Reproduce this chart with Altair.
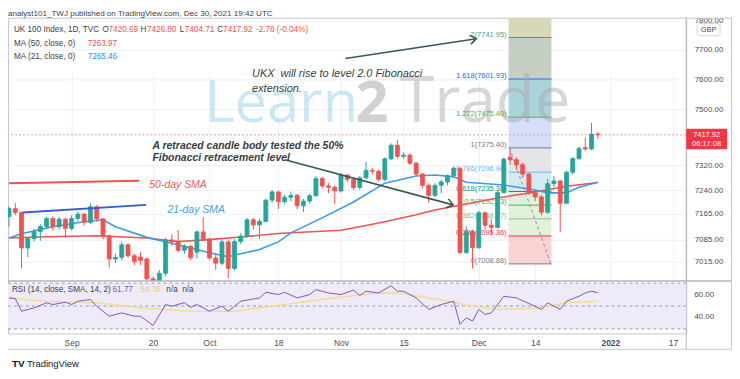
import altair as alt
import pandas as pd

# ---------------- data ----------------
# daily candles, 17 Aug 2021 (index 0) .. 30 Dec 2021 (index 94)
OPEN = [7156, 7181, 7169, 7058, 7087, 7109, 7125, 7150, 7124, 7148,
        7119, 7150, 7164, 7138, 7187, 7149, 7096, 7024, 7029, 7068,
        7034, 7030, 7024, 6963, 6903, 6980, 7083, 7078, 7051, 7063,
        7045, 7108, 7086, 7027, 7011, 7077, 6995, 7078, 7095, 7146,
        7130, 7141, 7208, 7234, 7203, 7217, 7223, 7190, 7205, 7222,
        7277, 7253, 7249, 7237, 7288, 7274, 7248, 7279, 7303, 7300,
        7274, 7340, 7384, 7348, 7352, 7326, 7291, 7255, 7223, 7255,
        7266, 7286, 7310, 7044, 7109, 7059, 7168, 7129, 7122, 7232,
        7345, 7337, 7321, 7291, 7231, 7218, 7170, 7260, 7269, 7198,
        7297, 7341, 7376, 7372, 7420.69]
HIGH = [7188, 7200, 7172, 7092, 7118, 7132, 7156, 7157, 7155, 7153,
        7160, 7172, 7168, 7198, 7192, 7152, 7100, 7040, 7078, 7072,
        7040, 7045, 7030, 6970, 6990, 7090, 7100, 7114, 7070, 7068,
        7112, 7155, 7090, 7040, 7085, 7082, 7085, 7105, 7152, 7152,
        7150, 7212, 7240, 7238, 7225, 7235, 7228, 7212, 7228, 7285,
        7282, 7262, 7255, 7295, 7292, 7280, 7285, 7330, 7310, 7306,
        7345, 7390, 7402, 7362, 7358, 7330, 7295, 7262, 7262, 7272,
        7290, 7315, 7312, 7125, 7115, 7175, 7172, 7150, 7240, 7345,
        7368, 7345, 7328, 7295, 7240, 7225, 7275, 7285, 7272, 7302,
        7345, 7380, 7408, 7457, 7426.80]
LOW = [7124, 7160, 6995, 7030, 7078, 7080, 7118, 7112, 7115, 7090,
       7112, 7140, 7128, 7132, 7140, 7085, 6998, 7012, 7020, 7028,
       7005, 7005, 6950, 6880, 6895, 6970, 7065, 7045, 7040, 7020,
       7025, 7080, 7020, 6990, 7005, 6965, 6990, 7070, 7090, 7115,
       7085, 7138, 7200, 7180, 7195, 7205, 7180, 7170, 7198, 7218,
       7245, 7230, 7195, 7232, 7265, 7240, 7242, 7275, 7290, 7268,
       7268, 7335, 7340, 7340, 7320, 7285, 7245, 7200, 7218, 7230,
       7255, 7280, 7040, 7040, 6995, 7055, 7115, 7100, 7118, 7228,
       7320, 7305, 7280, 7225, 7205, 7160, 7165, 7250, 7108, 7195,
       7290, 7335, 7365, 7368, 7404.71]
CLOSE = [7181, 7169, 7058, 7087, 7109, 7125, 7150, 7124, 7148, 7119,
         7150, 7164, 7138, 7187, 7149, 7096, 7024, 7029, 7068, 7034,
         7016, 7020, 6963, 6903, 6980, 7083, 7078, 7051, 7063, 7028,
         7108, 7086, 7027, 7011, 7077, 6995, 7078, 7095, 7146, 7130,
         7141, 7208, 7234, 7203, 7217, 7223, 7190, 7205, 7222, 7277,
         7253, 7249, 7237, 7288, 7274, 7248, 7279, 7303, 7300, 7274,
         7340, 7384, 7348, 7352, 7326, 7291, 7255, 7223, 7255, 7266,
         7286, 7310, 7044, 7109, 7059, 7168, 7129, 7122, 7232, 7339,
         7337, 7321, 7291, 7231, 7218, 7170, 7260, 7269, 7198, 7297,
         7341, 7373, 7372, 7420, 7417.92]

MA50_IDX = [0, 6, 14, 22, 27, 32, 37, 43, 46, 53, 57, 60, 65, 68, 73, 78, 84, 89, 94]
MA50_VAL = [7089, 7093, 7096, 7089, 7078, 7084, 7092, 7103, 7106, 7113, 7128, 7140,
            7162, 7177, 7196, 7215, 7234, 7252, 7264]
MA21_IDX = [0, 2, 7, 12, 15, 17, 22, 27, 32, 35, 37, 40, 43, 45, 50, 55, 60, 65, 68,
            71, 73, 79, 84, 86, 89, 91, 94]
MA21_VAL = [7089, 7102, 7124, 7140, 7146, 7124, 7091, 7068, 7043, 7031, 7040, 7053,
            7077, 7105, 7152, 7202, 7262, 7285, 7288, 7282, 7265, 7256, 7240, 7231,
            7231, 7249, 7265]

RSI_IDX = [0, 1, 2, 4, 6, 7, 9, 10, 11, 13, 14, 16, 18, 20, 21, 23, 25, 26, 28, 29,
           30, 32, 34, 35, 36, 37, 40, 41, 43, 44, 46, 48, 49, 51, 53, 55, 56, 57, 59,
           61, 62, 63, 65, 67, 69, 71, 72, 73, 74, 75, 76, 77, 79, 81, 84, 85, 86, 88,
           89, 91, 92, 93, 94]
RSI_VAL = [57.1, 56.5, 45.5, 48.4, 52.8, 51.3, 53.3, 51.3, 54.2, 55.7, 49.8, 41.1, 44.0,
           41.1, 41.1, 33.0, 51.3, 49.8, 53.0, 48.9, 51.3, 45.5, 49.8, 45.5, 49.8, 54.2,
           57.1, 62.0, 60.0, 62.0, 57.1, 60.0, 64.3, 61.4, 60.0, 63.8, 59.2, 62.9, 61.4,
           67.7, 62.9, 62.9, 57.1, 47.0, 51.3, 54.2, 34.0, 39.8, 36.9, 47.0, 42.7, 44.0,
           58.5, 57.1, 49.8, 47.0, 52.8, 47.0, 54.2, 58.5, 61.4, 62.9, 61.77]
RSIMA_IDX = [0, 6, 14, 21, 29, 36, 44, 52, 59, 63, 70, 74, 78, 85, 89, 94]
RSIMA_VAL = [57.0, 54.0, 52.8, 48.4, 45.5, 45.5, 51.3, 57.1, 61.4, 60.8, 54.2, 49.8,
             47.0, 48.4, 52.8, 54.2]

X_TICK_IDX = [10, 23, 32, 43, 53, 63, 75, 84, 96, 106]
X_TICK_LABELS = ["Sep", "20", "Oct", "18", "Nov", "15", "Dec", "14", "2022", "17"]
PRICE_TICKS = [7015, 7085, 7165, 7240, 7320, 7500, 7600, 7700, 7800]
RSI_TICKS = [40, 60]
RSI_BANDS = [70, 50, 30]

FIB_RATIOS = ["0", "0.236", "0.382", "0.5", "0.618", "0.786", "1", "1.272", "1.618", "2"]
FIB_PRICES = [7008.86, 7095.36, 7148.87, 7192.13, 7235.38, 7296.96, 7375.40, 7475.40,
              7601.93, 7741.95]
FIB_TOP = 7968.50
FIB_LINE_COLORS = ["#787b86", "#f23645", "#81c784", "#4caf50", "#089981", "#64b5f6",
                   "#787b86", "#4caf50", "#2962ff", "#3f9f8a"]
FIB_ZONE_COLORS = ["#f9d2d2", "#e2f1dc", "#e2f1dc", "#e1f0dc", "#d5ebf2", "#e4e5e8",
                   "#d6def8", "#a9d4da", "#c5d0c2", "#d8d7b8"]

# annotation anchors (bar index, price)
SMA50_NOTE = ([0, 20.8], [7262, 7270])
SMA21_NOTE = ([2.2, 21.9], [7169, 7193])
ARROW1 = ([44.2, 70.9], [7336, 7193])
ARROW2 = ([53.7, 74.6], [7671, 7738])
FIB_SPAN = (79.75, 86.6)
FIB_TREND = ([79.9, 86.5], [7375.4, 7008.86])
LAST_PRICE = 7417.92

# ---------------- layout ----------------
W, H = 681, 317
MAIN_BOTTOM = 264
UI_FONT = "Liberation Sans"
UP, DOWN = "#26a69a", "#ef5350"
GRID = "#edf0f5"
AXIS_TXT = "#4a4e5a"
NBSP = "\u00a0"

x_scale = alt.Scale(domain=[-0.16, 108.11], nice=False, zero=False, padding=0)
price_scale = alt.Scale(type="log", domain=[6957.5, 7809.6], range=[MAIN_BOTTOM, 0],
                        clamp=True, nice=False)
rsi_scale = alt.Scale(domain=[26.1, 71.3], range=[H, MAIN_BOTTOM + 1], nice=False, zero=False)

label_expr = "''"
for v, l in zip(reversed(X_TICK_IDX), reversed(X_TICK_LABELS)):
    label_expr = f"datum.value == {v} ? '{l}' : {label_expr}"

x_axis = alt.Axis(values=X_TICK_IDX, labelExpr=label_expr, title=None, grid=True,
                  gridColor=GRID, ticks=False, domain=False, labelFont=UI_FONT,
                  labelFontSize=8.5, labelColor=AXIS_TXT, labelPadding=5,
                  labelFontWeight={"condition": {"test": "datum.value == 96", "value": "bold"},
                                   "value": "normal"})
y_axis = alt.Axis(orient="right", values=PRICE_TICKS, format=".2f", title=None, grid=True,
                  gridColor=GRID, ticks=False, domain=False, labelFont=UI_FONT,
                  labelFontSize=8, labelColor=AXIS_TXT, labelPadding=8,
                  labelOverlap=False, labelBound=False)


def xq(field):
    return alt.X(field, type="quantitative", scale=x_scale, axis=x_axis)


def yp(field):
    return alt.Y(field, type="quantitative", scale=price_scale, axis=y_axis)


def yr(field):
    return alt.Y(field, type="quantitative", scale=rsi_scale, axis=None)


ONE = pd.DataFrame({"k": [0]})


def ptext(txt, x, y, color, size=8.2, weight="normal", align="left", style="normal",
          baseline="middle", font=UI_FONT):
    return alt.Chart(ONE).mark_text(text=txt, align=align, baseline=baseline, fontSize=size,
                                    fontWeight=weight, fontStyle=style, font=font,
                                    color=color).encode(x=alt.value(x), y=alt.value(y))


def prule(x, x2, y, y2=None, color="#c5c8cf", width=1):
    enc = dict(x=alt.value(x), x2=alt.value(x2), y=alt.value(y))
    if y2 is not None:
        enc["y2"] = alt.value(y2)
    return alt.Chart(ONE).mark_rule(color=color, strokeWidth=width).encode(**enc)


def seg(xs, ys, color, width=1.5, dash=None):
    df = pd.DataFrame({"x": xs, "y": ys, "o": list(range(len(xs)))})
    kw = dict(color=color, strokeWidth=width)
    if dash:
        kw["strokeDash"] = dash
    return alt.Chart(df).mark_line(**kw).encode(x=xq("x"), y=yp("y"), order="o:Q")


def head(xs, ys, angle, color):
    df = pd.DataFrame({"x": [xs[-1]], "y": [ys[-1]]})
    return alt.Chart(df).mark_point(shape="M -1 -0.75 L 0 0 L -1 0.75", filled=False,
                                    size=150, strokeWidth=1.6, color=color, angle=angle,
                                    opacity=1).encode(x=xq("x"), y=yp("y"))


def atext(txt, xi, price, color, size=10.5, weight="normal", style="italic",
          align="left", baseline="middle", font=UI_FONT, opacity=1):
    df = pd.DataFrame({"x": [xi], "y": [price]})
    return alt.Chart(df).mark_text(text=txt, align=align, baseline=baseline, fontSize=size,
                                   fontWeight=weight, fontStyle=style, font=font,
                                   color=color, opacity=opacity).encode(x=xq("x"), y=yp("y"))


candles = pd.DataFrame({"i": list(range(len(CLOSE))), "o": OPEN, "h": HIGH, "l": LOW,
                        "c": CLOSE})
cond_col = alt.condition("datum.c >= datum.o", alt.value(UP), alt.value(DOWN))

layers = []

# fibonacci extension zones, levels and labels
zones = pd.DataFrame({"lo": FIB_PRICES, "hi": FIB_PRICES[1:] + [FIB_TOP],
                      "col": FIB_ZONE_COLORS, "x0": [FIB_SPAN[0]] * 10,
                      "x1": [FIB_SPAN[1]] * 10})
layers.append(alt.Chart(zones).mark_rect().encode(
    x=xq("x0"), x2="x1", y=yp("lo"), y2="hi", color=alt.Color("col:N", scale=None)))
lv = pd.DataFrame({"p": FIB_PRICES, "col": FIB_LINE_COLORS,
                   "lab": [f"{r}({p:.2f})" for r, p in zip(FIB_RATIOS, FIB_PRICES)],
                   "x0": [FIB_SPAN[0]] * 10, "x1": [FIB_SPAN[1]] * 10})
layers.append(alt.Chart(lv).mark_rule(strokeWidth=1).encode(
    x=xq("x0"), x2="x1", y=yp("p"), color=alt.Color("col:N", scale=None)))
layers.append(seg(FIB_TREND[0], FIB_TREND[1], "#8a8d96", width=1, dash=[3, 3]))

# watermark (faint, behind everything else that follows)
layers.append(atext("Learn", 31.2, 7459, "#8ccbe6", size=58, style="normal",
                    baseline="alphabetic", font="Open Sans", opacity=0.45))
layers.append(atext("2", 55.3, 7459, "#9a9a9a", size=58, style="normal",
                    baseline="alphabetic", font="Open Sans", weight="bold", opacity=0.45))
layers.append(atext("Trade", 62.3, 7459, "#a8a8a8", size=64, style="normal",
                    baseline="alphabetic", font="Open Sans", opacity=0.45))

layers.append(alt.Chart(lv).mark_text(align="right", baseline="bottom", fontSize=7.5,
                                      font=UI_FONT, dx=-2, dy=1).encode(
    x=xq("x0"), y=yp("p"), text="lab:N", color=alt.Color("col:N", scale=None)))

# last price line
layers.append(alt.Chart(pd.DataFrame({"p": [LAST_PRICE]})).mark_rule(
    color="#f29a9a", strokeWidth=1, strokeDash=[2, 2]).encode(y=yp("p")))

# moving averages
layers.append(seg(MA50_IDX, MA50_VAL, "#ef5350", width=1.6))
layers.append(seg(MA21_IDX, MA21_VAL, "#3d9be9", width=1.6))

# candles
layers.append(alt.Chart(candles).mark_rule(strokeWidth=1).encode(
    x=xq("i"), y=yp("l"), y2="h", color=cond_col))
layers.append(alt.Chart(candles).mark_bar(size=4, strokeWidth=0.8).encode(
    x=xq("i"), y=yp("o"), y2="c", color=cond_col, stroke=cond_col))

# drawings
layers.append(seg(SMA50_NOTE[0], SMA50_NOTE[1], "#ef5350", width=2))
layers.append(seg(SMA21_NOTE[0], SMA21_NOTE[1], "#3b5bd6", width=2))
layers.append(seg(ARROW1[0], ARROW1[1], "#3a5a4f", width=1.6))
layers.append(head(ARROW1[0], ARROW1[1], 15, "#3a5a4f"))
layers.append(seg(ARROW2[0], ARROW2[1], "#3a5a4f", width=1.6))
layers.append(head(ARROW2[0], ARROW2[1], 351, "#3a5a4f"))

layers.append(atext("50-day SMA", 22.4, 7256, "#e8605c", size=10.5))
layers.append(atext("21-day SMA", 25.3, 7177, "#4a9fe3", size=10.5))
layers.append(atext("A retraced candle body tested the 50%", 22.9, 7381, "#38403d",
                    size=10.5, weight="bold"))
layers.append(atext("Fibonacci retracement level", 22.9, 7343, "#38403d",
                    size=10.5, weight="bold"))
layers.append(atext("UKX" + NBSP + NBSP + "will rise to level 2.0 Fibonacci", 38.8, 7619,
                    "#38403d", size=11))
layers.append(atext("extension.", 38.8, 7570, "#38403d", size=11))

# pane legend
RED_TXT, GRAY_TXT = "#ef5350", "#3b3f4a"
L1, L2, L3 = 12.5, 26, 39
layers += [
    ptext("UK 100 Index, 1D, TVC", 6, L1, GRAY_TXT),
    ptext("O", 95, L1, GRAY_TXT), ptext("7420.69", 101, L1, RED_TXT),
    ptext("H", 133, L1, GRAY_TXT), ptext("7426.80", 139.5, L1, RED_TXT),
    ptext("L", 172.5, L1, GRAY_TXT), ptext("7404.71", 177.5, L1, RED_TXT),
    ptext("C", 210, L1, GRAY_TXT), ptext("7417.92", 216, L1, RED_TXT),
    ptext("-2.78 (-0.04%)", 249, L1, RED_TXT),
    ptext("MA (50, close, 0)", 6, L2, GRAY_TXT), ptext("7263.97", 80, L2, RED_TXT),
    ptext("MA (21, close, 0)", 6, L3, GRAY_TXT), ptext("7265.46", 80, L3, "#2196f3"),
    ptext("analyst101_TWJ published on TradingView.com, Dec 30, 2021 19:42 UTC", 0, -4,
          "#3b3f4a", size=8.1),
    ptext("TV", 4, 348, "#131722", size=10, weight="bold"),
    ptext("TradingView", 19, 348, "#131722", size=9.5),
]

# frame pieces
layers += [
    prule(0, 726.5, MAIN_BOTTOM + 0.5, color="#b2b5be", width=1.5),
    prule(W, 726.5, 0.5),
    prule(726.5, 726.5, 0, 333),
    prule(0, 726.5, 333),
    prule(W, W, 0, 333, color="#b2b5be"),
]

# GBP box and last-price tag on the price axis
layers += [
    alt.Chart(ONE).mark_rect(fill="white", stroke="#d1d4dc", strokeWidth=1,
                             cornerRadius=2).encode(
        x=alt.value(692), x2=alt.value(715), y=alt.value(6), y2=alt.value(18)),
    ptext("GBP", 703.5, 12, "#4a4e5a", size=7.5, align="center"),
    alt.Chart(ONE).mark_rect(fill="#f23645", cornerRadius=1).encode(
        x=alt.value(681), x2=alt.value(722), y=alt.value(111.5), y2=alt.value(132)),
    ptext("7417.92", 701.5, 117.5, "white", size=7.5, align="center"),
    ptext("06:17:08", 701.5, 127, "white", size=7.5, align="center"),
]

main = alt.layer(*layers)

# ---------------- RSI pane ----------------
rsi_df = pd.DataFrame({"i": RSI_IDX, "v": RSI_VAL})
rsima_df = pd.DataFrame({"i": RSIMA_IDX, "v": RSIMA_VAL})
band = pd.DataFrame({"a": [RSI_BANDS[0]], "b": [RSI_BANDS[-1]]})
rsi_layers = [
    alt.Chart(band).mark_rect(color="#efeaf8").encode(
        x=alt.value(0), x2=alt.value(W), y=yr("a"), y2="b"),
    alt.Chart(pd.DataFrame({"v": RSI_BANDS})).mark_rule(
        color="#9a9ca6", strokeWidth=1, strokeDash=[3, 3]).encode(
        x=alt.value(0), x2=alt.value(W), y=yr("v")),
    alt.Chart(rsima_df).mark_line(color="#f3dc96", strokeWidth=1.6).encode(
        x=xq("i"), y=yr("v")),
    alt.Chart(rsi_df).mark_line(color="#7e57c2", strokeWidth=1).encode(
        x=xq("i"), y=yr("v")),
    alt.Chart(pd.DataFrame({"v": RSI_TICKS})).mark_text(
        align="left", baseline="middle", fontSize=8, font=UI_FONT, color=AXIS_TXT).encode(
        x=alt.value(W + 8), y=yr("v"), text=alt.Text("v:Q", format=".2f")),
    ptext("RSI (14, close, SMA, 14, 2)", 4, 273, GRAY_TXT),
    ptext("61.77", 105, 273, "#7e57c2"),
    ptext("54.36", 133, 273, "#e9cf7a"),
    ptext("n/a" + NBSP + NBSP + "n/a", 159, 273, GRAY_TXT),
]
rsi = alt.layer(*rsi_layers)

chart = alt.layer(main, rsi).resolve_scale(y="independent").properties(
    width=W, height=H,
    padding={"left": 0, "top": 9, "right": 46, "bottom": 37},
    autosize=alt.AutoSizeParams(type="none"),
).configure(background="white").configure_view(stroke="#c5c8cf", strokeWidth=1)

chart.save("out.html", embed_options={"renderer": "svg", "actions": False})
